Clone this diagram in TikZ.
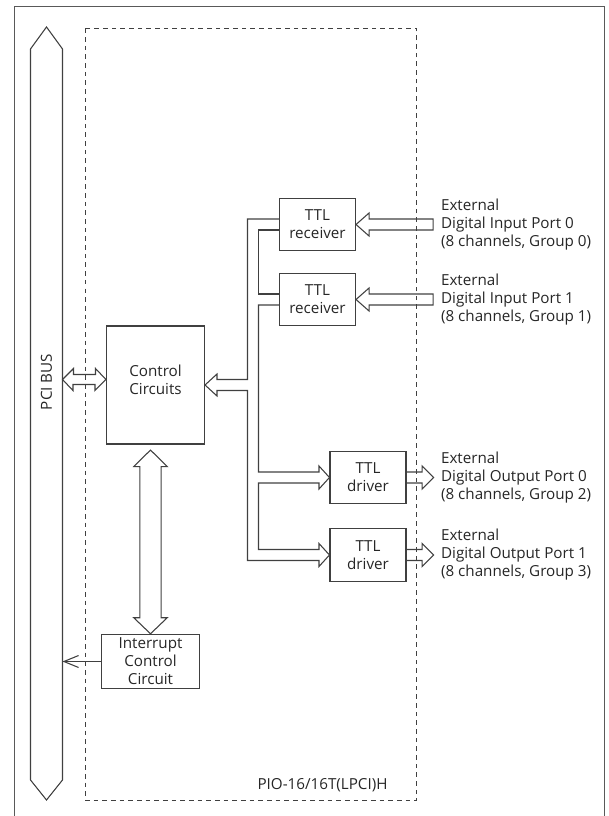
\documentclass[tikz,border=0pt]{standalone}
\usepackage{fontspec}
\setmainfont{Open Sans}
\usetikzlibrary{calc,arrows.meta}

\begin{document}
\begin{tikzpicture}[x=0.75pt,y=-0.75pt,line width=0.8pt,
  txt/.style={text=black!85,inner sep=0pt,font=\fontsize{11.4pt}{13.5pt}\selectfont},
  blk/.style={txt,draw=black!75,align=center},
  ext/.style={txt,anchor=west,align=left},
  wide/.style={draw=black!75,line join=miter}]
  \useasboundingbox (0,0) rectangle (608,816);
  \draw[black!65] (14.5,816) -- (14.5,6.5) -- (604.5,6.5) -- (604.5,816);
  \draw[black!75] (30.5,49) -- (46.5,27) -- (62.5,49) -- (62.5,780) -- (46.5,800) -- (30.5,780) -- cycle;
  \coordinate (pcir) at (62.5,0);
  \node[txt,rotate=90] (pcilbl) at (46.5,382) {PCI BUS};
  \draw[black!75,dash pattern=on 3.5pt off 3pt] (85.5,28.5) rectangle (416.5,800.5);
  \node[txt,anchor=east] (board) at (388,785) {PIO-16/16T(LPCI)H};

  \node[blk,minimum width=73.5pt,minimum height=88.5pt] (ctrl) at (155.5,385) {Control\\Circuits\\[-6pt]~};
  \node[blk,minimum width=57pt,minimum height=39.3pt] (rx0) at (317.5,224.5) {TTL\\receiver};
  \node[blk,minimum width=57pt,minimum height=39.3pt] (rx1) at (317.5,299.5) {TTL\\receiver};
  \node[blk,minimum width=57pt,minimum height=39pt] (drv0) at (368,477.5) {TTL\\driver};
  \node[blk,minimum width=57pt,minimum height=39.5pt] (drv1) at (368,555) {TTL\\driver};
  \node[blk,minimum width=73.5pt,minimum height=40.8pt] (irq) at (150.5,661.5) {Interrupt\\Control\\Circuit};

  \node[ext] (inlbl0) at ($(rx0.east)+(84.5,0)$) {External\\Digital Input Port 0\\(8 channels, Group 0)};
  \node[ext] (inlbl1) at ($(rx1.east)+(84.5,0)$) {External\\Digital Input Port 1\\(8 channels, Group 1)};
  \node[ext] (outlbl0) at ($(drv0.east)+(34,0)$) {External\\Digital Output Port 0\\(8 channels, Group 2)};
  \node[ext] (outlbl1) at ($(drv1.east)+(34,0)$) {External\\Digital Output Port 1\\(8 channels, Group 3)};

  \draw[wide] ($(rx0.west)+(0,-5.5)$) -| (247.5,379.5) -- (217,379.5) -- (217,374) -- (ctrl.east) -- (217,396) -- (217,390.5)
    -| (247.5,560.5) -- (319,560.5) -- (319,566.5) -- (drv1.west) -- (319,543.5) -- (319,549.5)
    -| (258.5,483) -- (319,483) -- (319,489) -- (drv0.west) -- (319,466) -- (319,472) -- (258.5,472) |- ($(rx1.west)+(0,5.5)$);
  \draw[wide] ($(rx1.west)+(0,-5.5)$) -| (258.5,230) -- ($(rx0.west)+(0,5.5)$);

  \draw[wide] (rx0.east) -- ++(13,-11.5) -- ++(0,6) -- ++(64,0) -- ++(0,11) -- ++(-64,0) -- ++(0,6) -- cycle;
  \draw[wide] (rx1.east) -- ++(13,-11.5) -- ++(0,6) -- ++(64,0) -- ++(0,11) -- ++(-64,0) -- ++(0,6) -- cycle;
  \draw[wide] ($(drv0.east)+(0,-5.5)$) -- ++(15.5,0) -- ++(0,-6) -- ++(11.5,11.5) -- ++(-11.5,11.5) -- ++(0,-6) -- ++(-15.5,0);
  \draw[wide] ($(drv1.east)+(0,-5.5)$) -- ++(15.5,0) -- ++(0,-6) -- ++(11.5,11.5) -- ++(-11.5,11.5) -- ++(0,-6) -- ++(-15.5,0);

  \draw[wide] ($(pcir |- ctrl.west)+(0,-5.5)$) -- ++(11,-11) -- ++(0,6) -- ++(22,0) -- ++(0,-6) -- ($(ctrl.west)+(0,-5.5)$)
    -- ++(-11,11) -- ++(0,-6) -- ++(-22,0) -- ++(0,6) -- cycle;
  \draw[wide] ($(irq.north |- ctrl.south)+(0,5.5)$) -- ++(16.7,16.5) -- ++(-6,0) -- ($(irq.north)+(10.7,-16)$) -- ++(6,0)
    -- (irq.north) -- ++(-16.7,-16) -- ++(6,0) -- ($(irq.north |- ctrl.south)+(-10.7,22)$) -- ++(-6,0) -- cycle;
  \draw[black!75,-{Straight Barb[length=11pt,width=9pt]}] (irq.west) -- (pcir |- irq.west);
\end{tikzpicture}
\end{document}
